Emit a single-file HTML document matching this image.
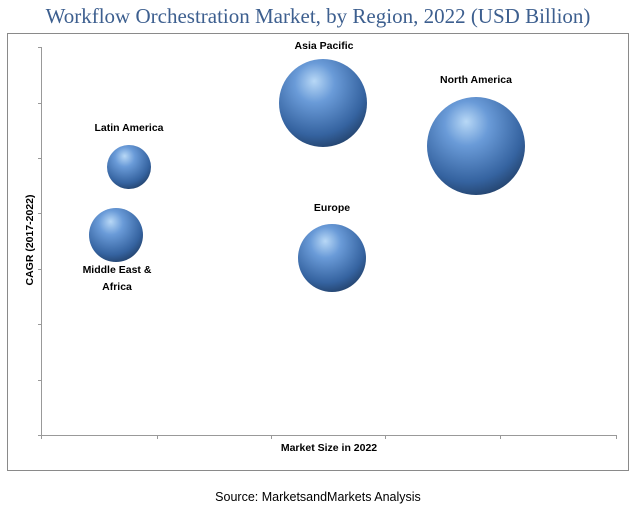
<!DOCTYPE html>
<html><head><meta charset="utf-8"><style>
body{margin:0;background:#fff;width:636px;height:512px;overflow:hidden}
</style></head><body>
<svg width="636" height="512" viewBox="0 0 636 512" xmlns="http://www.w3.org/2000/svg">
<defs>
<radialGradient id="g" cx="0.42" cy="0.32" r="0.75" fx="0.4" fy="0.25">
<stop offset="0" stop-color="#b8d8f6"/>
<stop offset="0.3" stop-color="#6a9bd8"/>
<stop offset="0.75" stop-color="#3563a0"/>
<stop offset="1" stop-color="#203c62"/>
</radialGradient>
</defs>
<text x="318" y="23" text-anchor="middle" font-family="Liberation Serif, serif" font-size="21" fill="#3d5f8f">Workflow Orchestration Market, by Region, 2022 (USD Billion)</text>
<rect x="7.5" y="33.5" width="621" height="437" fill="none" stroke="#8a8a8a"/>
<g stroke="#999" stroke-width="1">
<line x1="41.5" y1="47" x2="41.5" y2="436"/>
<line x1="41" y1="435.5" x2="617" y2="435.5"/>
<line x1="38" y1="47.5" x2="41" y2="47.5"/>
<line x1="38" y1="103.5" x2="41" y2="103.5"/>
<line x1="38" y1="158.5" x2="41" y2="158.5"/>
<line x1="38" y1="213.5" x2="41" y2="213.5"/>
<line x1="38" y1="269.5" x2="41" y2="269.5"/>
<line x1="38" y1="324.5" x2="41" y2="324.5"/>
<line x1="38" y1="380.5" x2="41" y2="380.5"/>
<line x1="38" y1="435.5" x2="41" y2="435.5"/>
<line x1="41.5" y1="435" x2="41.5" y2="439"/>
<line x1="157.5" y1="435" x2="157.5" y2="439"/>
<line x1="271.5" y1="435" x2="271.5" y2="439"/>
<line x1="385.5" y1="435" x2="385.5" y2="439"/>
<line x1="500.5" y1="435" x2="500.5" y2="439"/>
<line x1="616.5" y1="435" x2="616.5" y2="439"/>
</g>
<circle cx="323" cy="103" r="44" fill="url(#g)"/>
<circle cx="476" cy="146" r="49" fill="url(#g)"/>
<circle cx="129" cy="167" r="22" fill="url(#g)"/>
<circle cx="116" cy="235" r="27" fill="url(#g)"/>
<circle cx="332" cy="258" r="34" fill="url(#g)"/>
<g font-family="Liberation Sans, sans-serif" font-size="10.5" font-weight="bold" fill="#000" text-anchor="middle">
<text x="324" y="49">Asia Pacific</text>
<text x="476" y="83">North America</text>
<text x="129" y="131">Latin America</text>
<text x="332" y="211">Europe</text>
<text x="117" y="273">Middle East &amp;</text>
<text x="117" y="290">Africa</text>
<text x="329" y="451">Market Size in 2022</text>
<text transform="translate(33,240) rotate(-90)">CAGR (2017-2022)</text>
</g>
<text x="318" y="501" text-anchor="middle" font-family="Liberation Sans, sans-serif" font-size="12.5" fill="#000">Source: MarketsandMarkets Analysis</text>
</svg>
</body></html>
